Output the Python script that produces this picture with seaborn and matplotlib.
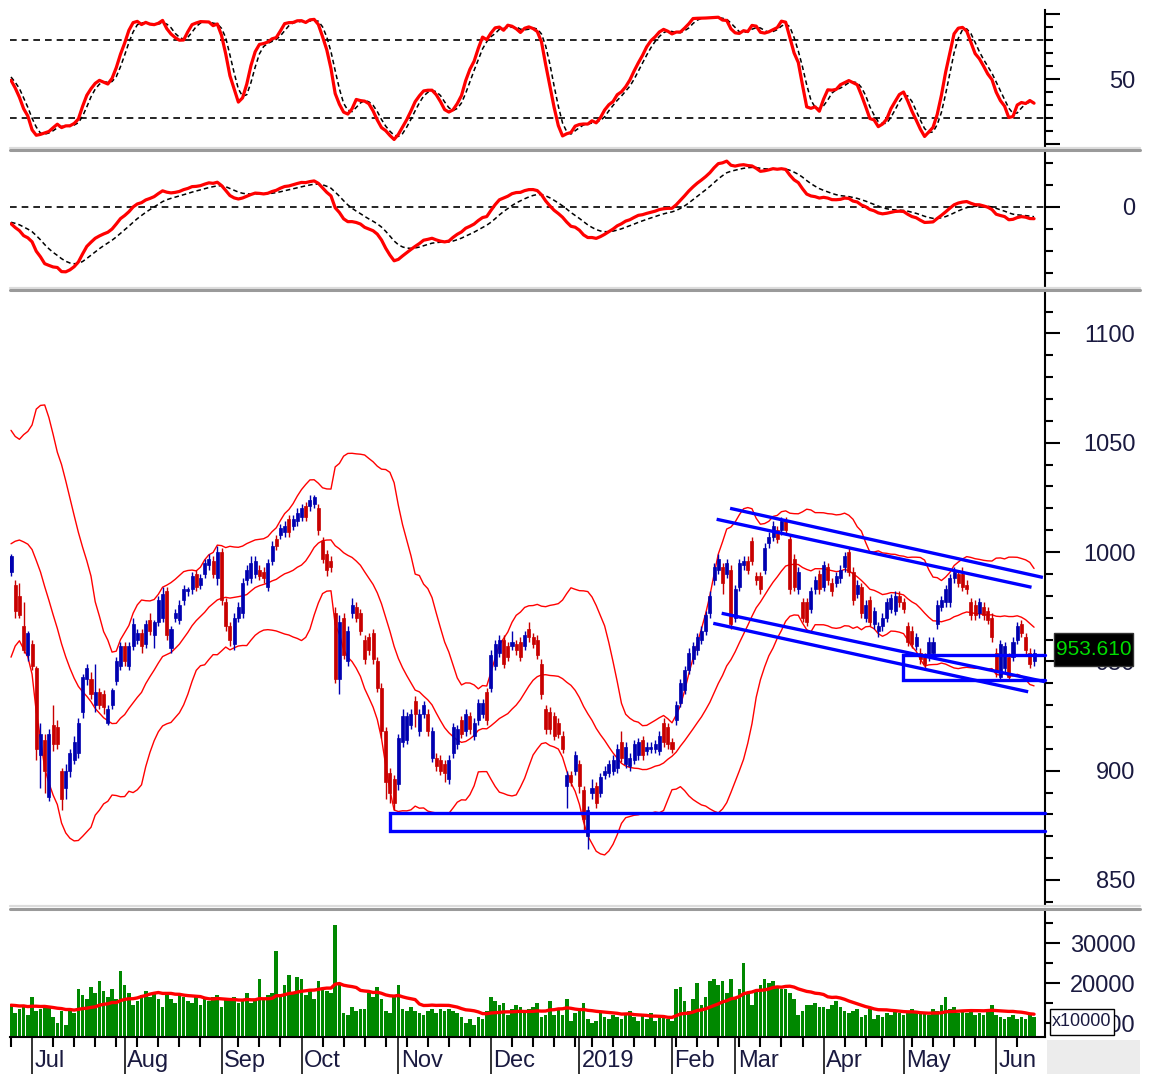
import numpy as np
import pandas as pd
import matplotlib
matplotlib.use("Agg")
import matplotlib.pyplot as plt
import matplotlib.transforms as mtransforms
from matplotlib.lines import Line2D
from matplotlib.patches import Rectangle
import seaborn as sns

# ------------------------------------------------------------------ data
holidays = ["2018-09-03", "2019-01-01", "2019-02-04", "2019-02-05", "2019-02-06",
            "2019-02-07", "2019-02-08", "2019-04-15", "2019-04-29", "2019-04-30",
            "2019-05-01"]
month_labels = ["Jul", "Aug", "Sep", "Oct", "Nov", "Dec", "2019",
                "Feb", "Mar", "Apr", "May", "Jun"]

# closes before the first visible day (needed by the 20-day bands / MACD)
warmup_close = [1095, 1090, 1085, 1080, 1082, 1075, 1070, 1072, 1065, 1060,
                1050, 1042, 1030, 1015, 1000, 990, 978, 965, 958, 950,
                942, 950, 960, 972, 984, 997, 1010, 1022, 1034, 1042,
                1044, 1037, 1028, 1020, 1012, 1004, 997, 992, 988, 985]
warmup_volume = [15000, 14000, 16000, 13500, 15500, 14500, 13000, 15000, 14000, 16500,
                 14500, 13500, 15000, 14000, 13000, 15500, 14500, 13500, 14000, 15000]

open_ = [
    # Jun 2018
    991, 985, 980, 966, 953,
    # Jul
    958, 947, 907, 914, 888, 921, 920, 900, 892, 900, 905, 908, 927, 942, 942, 930,
    936, 935, 922, 930, 941, 948,
    # Aug
    957, 948, 957, 960, 963, 958, 969, 962, 968, 970, 982, 956, 970, 969, 978, 982,
    983, 990, 985, 990, 994, 996, 988,
    # Sep
    1000, 977, 966, 958, 970, 972, 987, 988, 990, 992, 991, 984, 996, 1006, 1008,
    1009, 1015, 1012, 1014,
    # Oct
    1016, 1021, 1021, 1022, 1020, 1005, 999, 996, 972, 942, 970, 950, 972, 975, 972,
    960, 961, 963, 950, 938, 918, 899, 896,
    # Nov
    894, 913, 914, 921, 932, 918, 926, 926, 906, 906, 905, 903, 896, 908, 912, 923,
    918, 925, 916, 923, 926, 936,
    # Dec
    938, 948, 954, 960, 957, 957, 958, 959, 957, 965, 961, 960, 949, 928, 927, 925,
    922, 916, 893, 898, 900,
    # Jan 2019
    903, 891, 870, 890, 893, 890, 898, 899, 900, 901, 913, 903, 902, 905, 907, 914,
    909, 910, 910, 909, 922, 920,
    # Feb
    913, 923, 931, 937, 946, 951, 955, 960, 964, 972, 987, 992, 993, 990, 992,
    # Mar
    970, 984, 994, 996, 1005, 989, 989, 992, 1004, 1007, 1010, 1010, 1014, 1006, 997,
    983, 977, 977, 974, 983, 990,
    # Apr
    984, 993, 986, 986, 988, 993, 1000, 991, 981, 984, 970, 978, 967, 964, 966, 970,
    974, 973, 980,
    # May
    977, 966, 964, 957, 954, 952, 952, 954, 967, 975, 977, 977, 988, 990, 990, 985,
    977, 976, 972, 975, 973, 970,
    # Jun
    954, 943, 947, 952, 952, 960, 967, 961, 954, 950,
]

close = [
    # Jun 2018
    998, 973, 971, 955, 963,
    # Jul
    948, 910, 917, 900, 917, 912, 912, 887, 900, 908, 913, 922, 943, 947, 935, 936,
    930, 929, 928, 937, 950, 957,
    # Aug
    950, 957, 967, 963, 957, 967, 964, 968, 978, 981, 962, 965, 972, 976, 983, 983,
    989, 984, 988, 995, 997, 990, 1000,
    # Sep
    978, 966, 960, 970, 975, 986, 992, 995, 996, 989, 988, 995, 1003, 1003, 1011,
    1012, 1009, 1015, 1018,
    # Oct
    1020, 1016, 1024, 1025, 1010, 997, 992, 993, 942, 968, 953, 964, 976, 970, 964,
    951, 955, 951, 938, 918, 895, 890, 885,
    # Nov
    915, 925, 925, 926, 926, 926, 930, 918, 918, 902, 900, 899, 905, 920, 919, 917,
    926, 919, 922, 931, 931, 923,
    # Dec
    953, 958, 960, 949, 952, 959, 955, 952, 962, 961, 958, 953, 935, 919, 919, 916,
    917, 910, 898, 895, 907,
    # Jan 2019
    893, 878, 882, 892, 885, 897, 900, 903, 905, 910, 906, 911, 906, 912, 913, 907,
    911, 911, 912, 916, 913, 912,
    # Feb
    910, 930, 940, 946, 954, 957, 961, 964, 971, 980, 993, 997, 986, 995, 967,
    # Mar
    983, 995, 996, 992, 996, 987, 983, 1002, 1007, 1012, 1006, 1014, 1010, 983, 984,
    991, 970, 968, 982, 987, 983,
    # Apr
    994, 987, 982, 989, 992, 998, 991, 978, 985, 972, 976, 968, 973, 966, 970, 977,
    979, 980, 977,
    # May
    974, 959, 958, 961, 951, 949, 959, 959, 976, 978, 983, 988, 991, 986, 984, 983,
    971, 971, 977, 971, 969, 961,
    # Jun
    945, 958, 957, 943, 959, 966, 963, 955, 949, 953.61,
]

# shadow lengths above / below the candle body
wick_up = [
    1, 2, 6, 11, 1,
    2, 1, 5, 3, 2, 9, 3, 1, 3, 2, 3, 2, 1, 2, 3, 13, 2, 2, 2, 1, 2, 2,
    2, 2, 3, 2, 2, 2, 3, 1, 2, 3, 2, 1, 2, 2, 2, 1, 2, 2, 2, 2, 2, 2, 3,
    2, 2, 2, 2, 2, 2, 2, 3, 2, 2, 2, 2, 2, 2, 2, 2, 2, 2, 2,
    2, 2, 2, 1, 2, 2, 2, 2, 3, 3, 2, 2, 3, 2, 2, 2, 2, 2, 2, 2, 2, 2, 2,
    2, 3, 2, 2, 2, 2, 2, 2, 2, 2, 2, 2, 2, 2, 2, 2, 2, 2, 2, 2, 2, 2,
    2, 2, 2, 2, 2, 5, 2, 2, 2, 3, 2, 2, 2, 2, 2, 2, 2, 2, 2, 2, 2,
    2, 2, 2, 4, 2, 2, 2, 2, 2, 2, 5, 2, 2, 2, 2, 2, 2, 2, 2, 2, 2, 2,
    2, 2, 2, 2, 2, 2, 2, 2, 2, 2, 2, 2, 2, 2, 2,
    2, 2, 2, 2, 2, 2, 2, 2, 2, 2, 2, 2, 2, 2, 2, 2, 2, 2, 2, 2, 2,
    2, 2, 2, 2, 2, 2, 2, 2, 2, 2, 2, 2, 2, 2, 2, 2, 2, 2, 2,
    2, 2, 2, 2, 2, 2, 2, 2, 2, 2, 2, 2, 2, 2, 3, 2, 2, 2, 2, 2, 2, 2,
    2, 2, 2, 2, 2, 2, 2, 2, 2, 2,
]
wick_dn = [
    2, 3, 1, 1, 3,
    2, 5, 15, 10, 2, 3, 2, 5, 5, 3, 2, 2, 3, 3, 2, 3, 2, 3, 1, 2, 2, 2,
    2, 2, 2, 2, 3, 2, 2, 6, 2, 2, 2, 2, 2, 2, 2, 2, 2, 2, 2, 2, 2, 2, 3,
    2, 2, 3, 3, 2, 2, 2, 2, 2, 2, 2, 2, 2, 2, 2, 2, 2, 2, 2,
    2, 2, 2, 2, 2, 2, 3, 2, 2, 7, 2, 2, 2, 2, 2, 2, 2, 2, 2, 3, 8, 5, 3,
    3, 2, 2, 2, 6, 2, 2, 2, 2, 2, 2, 4, 2, 2, 2, 2, 2, 2, 2, 2, 2, 2,
    2, 2, 2, 2, 2, 2, 2, 2, 2, 2, 2, 2, 2, 2, 2, 2, 2, 2, 10, 2, 2,
    3, 5, 6, 3, 2, 2, 2, 2, 2, 2, 2, 2, 2, 2, 2, 2, 2, 2, 2, 2, 2, 2,
    2, 2, 2, 2, 2, 2, 2, 2, 2, 2, 2, 2, 5, 2, 2,
    2, 2, 2, 2, 2, 2, 2, 2, 2, 2, 2, 2, 2, 2, 2, 2, 2, 2, 2, 2, 2,
    2, 2, 2, 2, 2, 2, 2, 2, 2, 2, 2, 2, 2, 3, 2, 2, 2, 2, 2,
    2, 2, 2, 2, 2, 2, 2, 2, 2, 2, 2, 2, 2, 2, 2, 2, 2, 2, 2, 2, 2, 2,
    2, 2, 2, 2, 2, 2, 2, 2, 2, 2,
]

volume = [
    # Jun 2018
    14500, 12500, 13500, 14000, 12000,
    # Jul
    16500, 13000, 13500, 14500, 14000, 11500, 10000, 13000, 9500, 13000, 12500, 18500,
    17000, 16000, 19000, 17500, 20500, 18000, 16500, 18500, 16000, 23000,
    # Aug
    19500, 17500, 14500, 15500, 17000, 18000, 16500, 17500, 16000, 14000, 17000, 16000,
    15000, 17000, 16500, 15500, 15000, 16500, 14500, 16000, 15500, 16500, 17000,
    # Sep
    14000, 16000, 15500, 16500, 15000, 15500, 17500, 15000, 16000, 21000, 16000, 17000,
    17500, 28000, 16500, 19500, 22000, 17500, 21500,
    # Oct
    21000, 17000, 18500, 16000, 20500, 18500, 18000, 17500, 34500, 19500, 12500, 12000,
    14000, 13000, 13500, 13500, 17500, 16500, 19000, 16000, 13000, 12500, 17000,
    # Nov
    19500, 13500, 13000, 14000, 13000, 12500, 12000, 13000, 13500, 12500, 13500, 13000,
    13500, 13000, 12500, 11500, 10000, 11000, 9500, 11500, 11000, 13000,
    # Dec
    16500, 15500, 14500, 15000, 12000, 13500, 14500, 14000, 12500, 13500, 14000, 15000,
    11500, 12000, 15500, 12000, 13500, 12000, 16000, 10500, 12500,
    # Jan 2019
    13000, 15000, 11000, 10000, 10500, 12500, 11500, 11000, 12000, 11500, 11000, 12000,
    13000, 11500, 10500, 12000, 11000, 12500, 10500, 11500, 12000, 11000,
    # Feb
    10500, 18500, 19000, 15500, 13000, 16000, 20000, 14500, 16500, 20500, 21000, 19500,
    20500, 17500, 21000,
    # Mar
    16000, 18500, 25000, 17500, 14500, 18000, 19500, 21000, 20000, 20500, 19000, 18500,
    18500, 17500, 16000, 12000, 13000, 14500, 14500, 15000, 14000,
    # Apr
    14000, 13500, 14500, 15500, 14000, 13000, 12500, 13000, 13500, 11500, 12000, 13500,
    11000, 12000, 11500, 12500, 12000, 13000, 12500,
    # May
    12000, 13000, 13500, 13000, 12500, 12500, 12000, 13500, 13000, 14500, 16500, 13500,
    14000, 12500, 13000, 12500, 13000, 12000, 12500, 12000, 13000, 14500,
    # Jun
    12000, 11500, 11000, 11500, 12000, 11000, 11500, 11000, 12000, 11500,
]

# drawn trend channel: (day from, price from, day to, price to)
channel_lines = [(170.8, 1020.0, 245.1, 988.4),
                 (167.6, 1015.0, 242.4, 983.9),
                 (168.8, 972.0, 245.6, 940.7),
                 (166.8, 967.4, 241.6, 936.1)]
# drawn support boxes, open to the right: (day from, price low, price high)
support_boxes = [(90.0, 872.4, 880.6), (211.9, 941.4, 952.9)]
last_price = 953.61

# ------------------------------------------------------------------ indicators
n = len(close)
dates = pd.bdate_range("2018-06-25", "2019-06-14")
dates = dates[~dates.isin(pd.to_datetime(holidays))][:n]
xpos = np.arange(n)

o = np.array(open_, float)
c = np.array(close, float)
hi = np.maximum(o, c) + np.array(wick_up, float)
lo = np.minimum(o, c) - np.array(wick_dn, float)

nw = len(warmup_close)
c_all = pd.Series(list(warmup_close) + list(c), dtype=float)
h_all = pd.Series(list(warmup_close) + list(hi), dtype=float)
l_all = pd.Series(list(warmup_close) + list(lo), dtype=float)

mid = c_all.rolling(20).mean()
sd = c_all.rolling(20).std(ddof=0)
bb = pd.DataFrame({"x": xpos,
                   "upper": (mid + 2 * sd).values[nw:],
                   "mid": mid.values[nw:],
                   "lower": (mid - 2 * sd).values[nw:]})

STO_N = 21
hh = h_all.rolling(STO_N).max()
ll = l_all.rolling(STO_N).min()
fast_k = 100 * (c_all - ll) / (hh - ll)
slow_k = fast_k.rolling(5).mean()
slow_d = slow_k.rolling(3).mean()
st = pd.DataFrame({"x": xpos, "k": slow_k.values[nw:], "d": slow_d.values[nw:]})

ema12 = c_all.ewm(span=12, adjust=False).mean()
ema26 = c_all.ewm(span=26, adjust=False).mean()
macd = ema12 - ema26
sig = macd.ewm(span=9, adjust=False).mean()
md = pd.DataFrame({"x": xpos, "macd": macd.values[nw:], "sig": sig.values[nw:]})

v_all = pd.Series(list(warmup_volume) + list(volume), dtype=float)
vma = v_all.rolling(20).mean().values[len(warmup_volume):]
vo = pd.DataFrame({"x": xpos, "vol": np.array(volume, float), "vma": vma})

# ------------------------------------------------------------------ figure
sns.set_theme(style="white")
plt.rcParams["font.family"] = ["Liberation Sans", "DejaVu Sans"]

W, H = 1149, 1074
fig = plt.figure(figsize=(W / 100, H / 100), dpi=100)
fig.patch.set_facecolor("white")

PL, PR = 10, 1045
XMIN, XMAX = -0.24, 245.6
RED = "#FF0000"
CBLUE = "#0000B0"
CRED = "#C80000"
TBLUE = "#0000FF"
LABC = "#1a1a40"
FS = 17


def add_ax(y0, y1):
    return fig.add_axes([PL / W, 1 - y1 / H, (PR - PL) / W, (y1 - y0) / H])


def style(ax, ylim, major, labels, minor):
    ax.set_xlim(XMIN, XMAX)
    ax.set_ylim(*ylim)
    ax.set_facecolor("white")
    ax.grid(False)
    for s in ["left", "top", "bottom"]:
        ax.spines[s].set_visible(False)
    ax.spines["right"].set_visible(True)
    ax.spines["right"].set_color("black")
    ax.spines["right"].set_linewidth(1.5)
    ax.yaxis.tick_right()
    ax.set_yticks(major)
    ax.set_yticklabels(labels)
    ax.set_yticks(minor, minor=True)
    ax.tick_params(axis="y", which="major", length=11, width=1.5, color="black",
                   direction="out", pad=54, labelsize=FS, labelcolor=LABC)
    ax.tick_params(axis="y", which="minor", length=6, width=1.5, color="black",
                   direction="out")
    for t in ax.get_yticklabels():
        t.set_horizontalalignment("right")
    ax.set_xticks([])
    ax.set_xlabel("")
    ax.set_ylabel("")


# --- stochastic
ax_st = add_ax(10, 147)
ax_st.axhline(80, color="black", lw=1.2, ls=(0, (4, 3)))
ax_st.axhline(20, color="black", lw=1.2, ls=(0, (4, 3)))
sns.lineplot(data=st, x="x", y="d", ax=ax_st, color="black", lw=1.1,
             linestyle=(0, (3, 2)))
sns.lineplot(data=st, x="x", y="k", ax=ax_st, color=RED, lw=2.3)
style(ax_st, (-2.3, 103.1), [0, 50, 100], ["", "50", ""], list(range(10, 100, 10)))

# --- MACD
ax_md = add_ax(153, 288)
ax_md.axhline(0, color="black", lw=1.2, ls=(0, (4, 3)))
sns.lineplot(data=md, x="x", y="sig", ax=ax_md, color="black", lw=1.1,
             linestyle=(0, (3, 2)))
sns.lineplot(data=md, x="x", y="macd", ax=ax_md, color=RED, lw=2.3)
style(ax_md, (-36.8, 24.5), [0], ["0"], [-30, -20, -10, 10, 20])

# --- price
ax_pr = add_ax(293, 906)
for col in ["upper", "mid", "lower"]:
    sns.lineplot(data=bb, x="x", y=col, ax=ax_pr, color=RED, lw=1.0)
ccol = np.where(c >= o, CBLUE, CRED)
ax_pr.vlines(xpos, lo, hi, colors=ccol, lw=1.0, zorder=3)
body_h = np.maximum(np.abs(c - o), 0.7)
ax_pr.bar(xpos, body_h, bottom=np.minimum(o, c), width=0.72, color=ccol,
          edgecolor=ccol, linewidth=0.5, zorder=4)
for d0, p0, d1, p1 in channel_lines:
    ax_pr.plot([d0, d1], [p0, p1], color=TBLUE, lw=2.4, solid_capstyle="butt", zorder=5)
for d0, plo, phi in support_boxes:
    ax_pr.plot([XMAX, d0, d0, XMAX], [phi, phi, plo, plo], color=TBLUE, lw=2.4,
               solid_joinstyle="miter", zorder=5, clip_on=False)
style(ax_pr, (838.1, 1118.5), [850, 900, 950, 1000, 1050, 1100],
      ["850", "900", "950", "1000", "1050", "1100"],
      [v for v in range(840, 1120, 10) if v % 50])

# --- volume
VB = 1037
ax_vo = add_ax(911, VB)
ax_vo.bar(xpos, vo["vol"], width=0.86, color="#008800", linewidth=0, zorder=2)
sns.lineplot(data=vo, x="x", y="vma", ax=ax_vo, color=RED, lw=2.4, zorder=3)
style(ax_vo, ((1063 - VB) * 250, 38000), [10000, 20000, 30000],
      ["10000", "20000", "30000"], [15000, 25000, 35000])

# x axis (months / weeks)
month_pos = [i for i in range(1, n) if dates[i].month != dates[i - 1].month]
week_pos = [i for i in range(n) if i == 0 or dates[i].weekday() < dates[i - 1].weekday()]
ax_vo.spines["bottom"].set_visible(True)
ax_vo.spines["bottom"].set_color("black")
ax_vo.spines["bottom"].set_linewidth(1.5)
ax_vo.set_xticks(month_pos)
ax_vo.set_xticklabels([])
ax_vo.set_xticks([w for w in week_pos if w not in month_pos], minor=True)
ax_vo.tick_params(axis="x", which="major", length=27, width=1.3, color="#222222",
                  direction="out", bottom=True)
ax_vo.tick_params(axis="x", which="minor", length=7, width=1.5, color="black",
                  direction="out", bottom=True)
trans = mtransforms.blended_transform_factory(ax_vo.transData, ax_vo.transAxes)
lab_y = (VB - 1061) / (VB - 911)
for pos, lab in zip(month_pos, month_labels):
    ax_vo.text(pos + 0.6, lab_y, lab, transform=trans, ha="left", va="center",
               fontsize=FS, color=LABC, clip_on=False)


# ------------------------------------------------------------------ frame decorations
def fx(px):
    return px / W


def fy(py):
    return 1 - py / H


for ysep in [150, 290, 908.5]:
    fig.add_artist(Line2D([fx(10), fx(1140)], [fy(ysep - 2.2), fy(ysep - 2.2)],
                          color="#dcdcdc", lw=1.6))
    fig.add_artist(Line2D([fx(10), fx(1140)], [fy(ysep), fy(ysep)],
                          color="#9a9a9a", lw=2.2))

fig.add_artist(Rectangle((fx(1047), fy(1074)), fx(93), 34 / H, transform=fig.transFigure,
                         facecolor="#ececec", edgecolor="none"))
# unit box on the volume scale
fig.add_artist(Rectangle((fx(1050), fy(1035)), fx(64), 26 / H, transform=fig.transFigure,
                         facecolor="white", edgecolor="black", lw=1.0))
fig.text(fx(1052), fy(1022), "x10000", ha="left", va="center", fontsize=13, color=LABC)
# last price marker
fig.add_artist(Rectangle((fx(1054), fy(666)), fx(79), 33 / H,
                         transform=fig.transFigure, facecolor="black", edgecolor="#333333"))
fig.text(fx(1093.5), fy(649.5), f"{last_price:.3f}", ha="center", va="center",
         fontsize=15, color="#00DD00")

fig.savefig("out.png", dpi=100, facecolor="white")
